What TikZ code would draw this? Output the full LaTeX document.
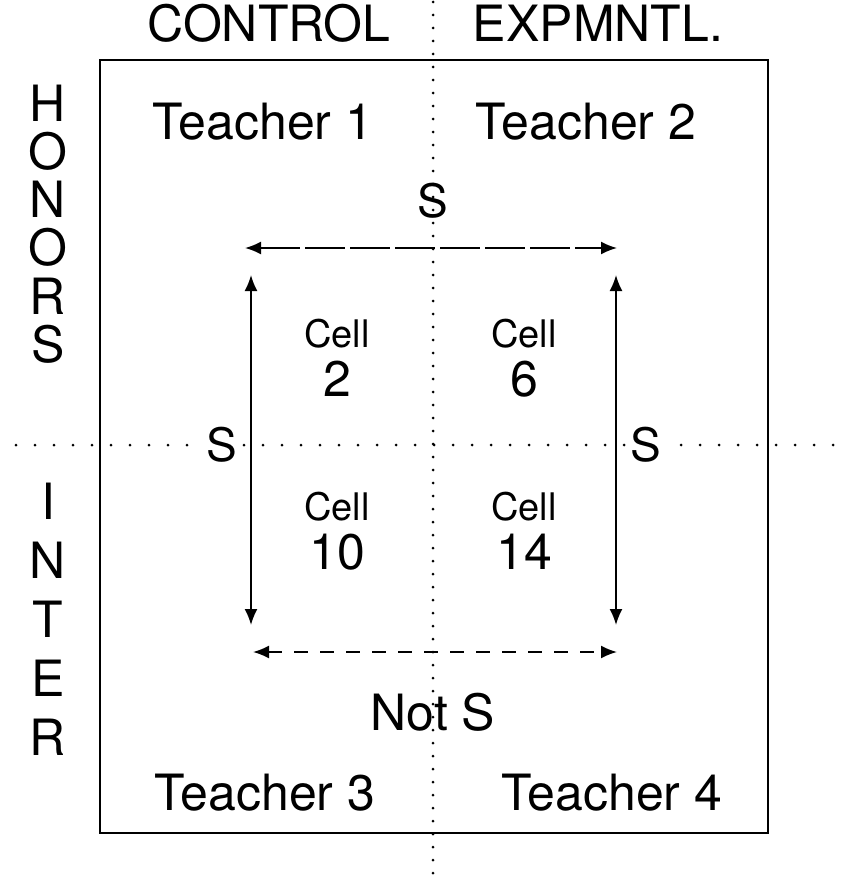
\documentclass[tikz,border=0pt]{standalone}
\usepackage{fontspec}
\setmainfont{TeX Gyre Heros}
\usepackage{tikz}
\usetikzlibrary{arrows.meta}

\begin{document}
\begin{tikzpicture}[x=1pt, y=-1pt,
    lab/.style={inner sep=0pt, font=\fontsize{50}{60}\selectfont},
    cell/.style={inner sep=0pt, font=\fontsize{38}{46}\selectfont},
    slab/.style={inner sep=3pt, fill=white, font=\fontsize{46}{52}\selectfont},
    dots/.style={line width=3pt, line cap=round, dash pattern=on 0pt off #1},
    arr/.style={line width=1.8pt, {Latex[length=16pt,width=13pt]}-{Latex[length=16pt,width=13pt]}}]
    \path[fill=white, use as bounding box] (0,0) rectangle (842,883);
    \draw[line width=2pt] (100,60) rectangle (768,833);
    \draw[dots=13pt] (433,2) -- (433,881);
    \draw[dots=19pt] (16,445) -- (842,445);

    \node[lab] (ctrl) at (269,23) {CONTROL};
    \node[lab] (expt) at (598,23) {EXPMNTL.};
    \node[lab] (t1) at (263,122) {Teacher 1};
    \node[lab] (t2) at (586,122) {Teacher 2};
    \node[lab] (t3) at (265,793) {Teacher 3};
    \node[lab] (t4) at (612,793) {Teacher 4};
    \foreach \l [count=\i from 0] in {H,O,N,O,R,S}
        \node[lab] (hon\i) at (48,{103+48.2*\i}) {\l};
    \foreach \l [count=\i from 0] in {I,N,T,E,R}
        \node[lab] (int\i) at (48,{501+59*\i}) {\l};

    \node[cell] (c2) at (337,334) {Cell};
    \node[lab] (n2) at (337,379) {2};
    \node[cell] (c6) at (524,334) {Cell};
    \node[lab] (n6) at (524,379) {6};
    \node[cell] (c10) at (337,507) {Cell};
    \node[lab] (n10) at (337,552) {10};
    \node[cell] (c14) at (524,507) {Cell};
    \node[lab] (n14) at (524,552) {14};

    \node[slab, fill=none] (stop) at (433,201) {S};
    \node[slab] (sleft) at (222,445) {S};
    \node[slab] (sright) at (646,445) {S};
    \node[lab] (nots) at (433,712) {Not S};

    \coordinate (tl) at (245,248);
    \coordinate (tr) at (617,248);
    \coordinate (bl) at (253,652);
    \coordinate (br) at (617,652);
    \coordinate (lt) at (251,275);
    \coordinate (lb) at (251,625);
    \coordinate (rt) at (616,275);
    \coordinate (rb) at (616,625);
    \draw[arr, dash pattern=on 40pt off 5pt] (tl) -- (tr);
    \draw[arr, dash pattern=on 14pt off 12pt] (bl) -- (br);
    \draw[arr] (lt) -- (lb);
    \draw[arr] (rt) -- (rb);
    % \draw[dashed] (sleft) -- (sright);
\end{tikzpicture}
\end{document}
